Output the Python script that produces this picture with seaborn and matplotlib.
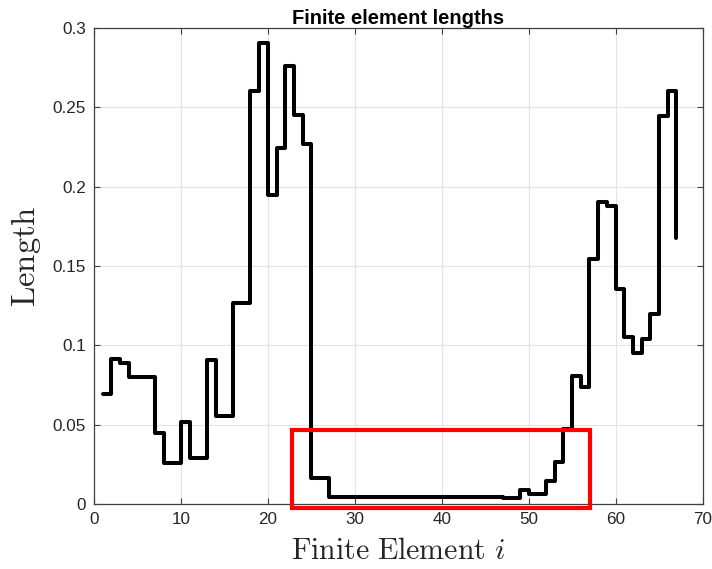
import numpy as np
import pandas as pd
import seaborn as sns
import matplotlib
matplotlib.use("Agg")
import matplotlib.pyplot as plt
from matplotlib.patches import Rectangle

# Element index and element length
element = list(range(1, 68))
length = [
    0.0692, 0.0912, 0.0891, 0.0800, 0.0800, 0.0800, 0.0450, 0.0258, 0.0258, 0.0514,
    0.0289, 0.0289, 0.0906, 0.0556, 0.0556, 0.1264, 0.1264, 0.2604, 0.2904, 0.1950,
    0.2243, 0.2763, 0.2449, 0.2270, 0.0162, 0.0162, 0.0042, 0.0042, 0.0042, 0.0042,
    0.0042, 0.0042, 0.0042, 0.0042, 0.0042, 0.0042, 0.0042, 0.0042, 0.0042, 0.0042,
    0.0042, 0.0042, 0.0042, 0.0042, 0.0042, 0.0042, 0.0036, 0.0036, 0.0088, 0.0063,
    0.0063, 0.0143, 0.0266, 0.0472, 0.0807, 0.0738, 0.1547, 0.1904, 0.1876, 0.1352,
    0.1052, 0.0954, 0.1042, 0.1199, 0.2447, 0.2604, 0.1677,
]

# Highlighted region (x range, y range)
box_x = [22.75, 57.1]
box_y = [-0.0027, 0.0465]

xticks = [0, 10, 20, 30, 40, 50, 60, 70]
yticks = [0, 0.05, 0.1, 0.15, 0.2, 0.25, 0.3]
ytick_labels = ["0", "0.05", "0.1", "0.15", "0.2", "0.25", "0.3"]

sns.set_theme(style="white")
plt.rcParams["font.family"] = ["Liberation Sans", "DejaVu Sans"]
plt.rcParams["mathtext.fontset"] = "cm"

df = pd.DataFrame({"element": element, "length": length})

fig = plt.figure(figsize=(7.12, 5.69), dpi=100)
ax = fig.add_axes([94 / 712, 1 - 504 / 569, (702.5 - 94) / 712, (504 - 28) / 569])

sns.lineplot(data=df, x="element", y="length", ax=ax, color="black",
             linewidth=2.9, drawstyle="steps-post", sort=False, estimator=None,
             zorder=3)

ax.add_patch(Rectangle((box_x[0], box_y[0]), box_x[1] - box_x[0], box_y[1] - box_y[0],
                       fill=False, edgecolor="#ff0000", linewidth=3.0,
                       clip_on=False, zorder=4))

ax.set_xlim(0, 70)
ax.set_ylim(0, 0.3)
ax.set_xticks(xticks)
ax.set_yticks(yticks)
ax.set_yticklabels(ytick_labels)

ax.grid(True, color="#e3e3e3", linewidth=0.8)
ax.set_axisbelow(True)
for sp in ax.spines.values():
    sp.set_visible(True)
    sp.set_color("#404040")
    sp.set_linewidth(0.9)

ax.tick_params(axis="both", which="both", direction="in", length=4, width=0.8,
               colors="#404040", labelcolor="#262626", labelsize=12.3,
               top=True, right=True, bottom=True, left=True, pad=6)

ax.set_title("Finite element lengths", fontsize=14.5, fontweight="bold",
             color="black", pad=2)
ax.set_xlabel(r"$\mathrm{Finite\ Element}\ i$", fontsize=21.5, color="#262626", labelpad=7)
ax.set_ylabel(r"$\mathrm{Length}$", fontsize=23.5, color="#262626")
ax.yaxis.set_label_coords(-0.084, 0.521)

fig.savefig("out.png", dpi=100, facecolor="white")
